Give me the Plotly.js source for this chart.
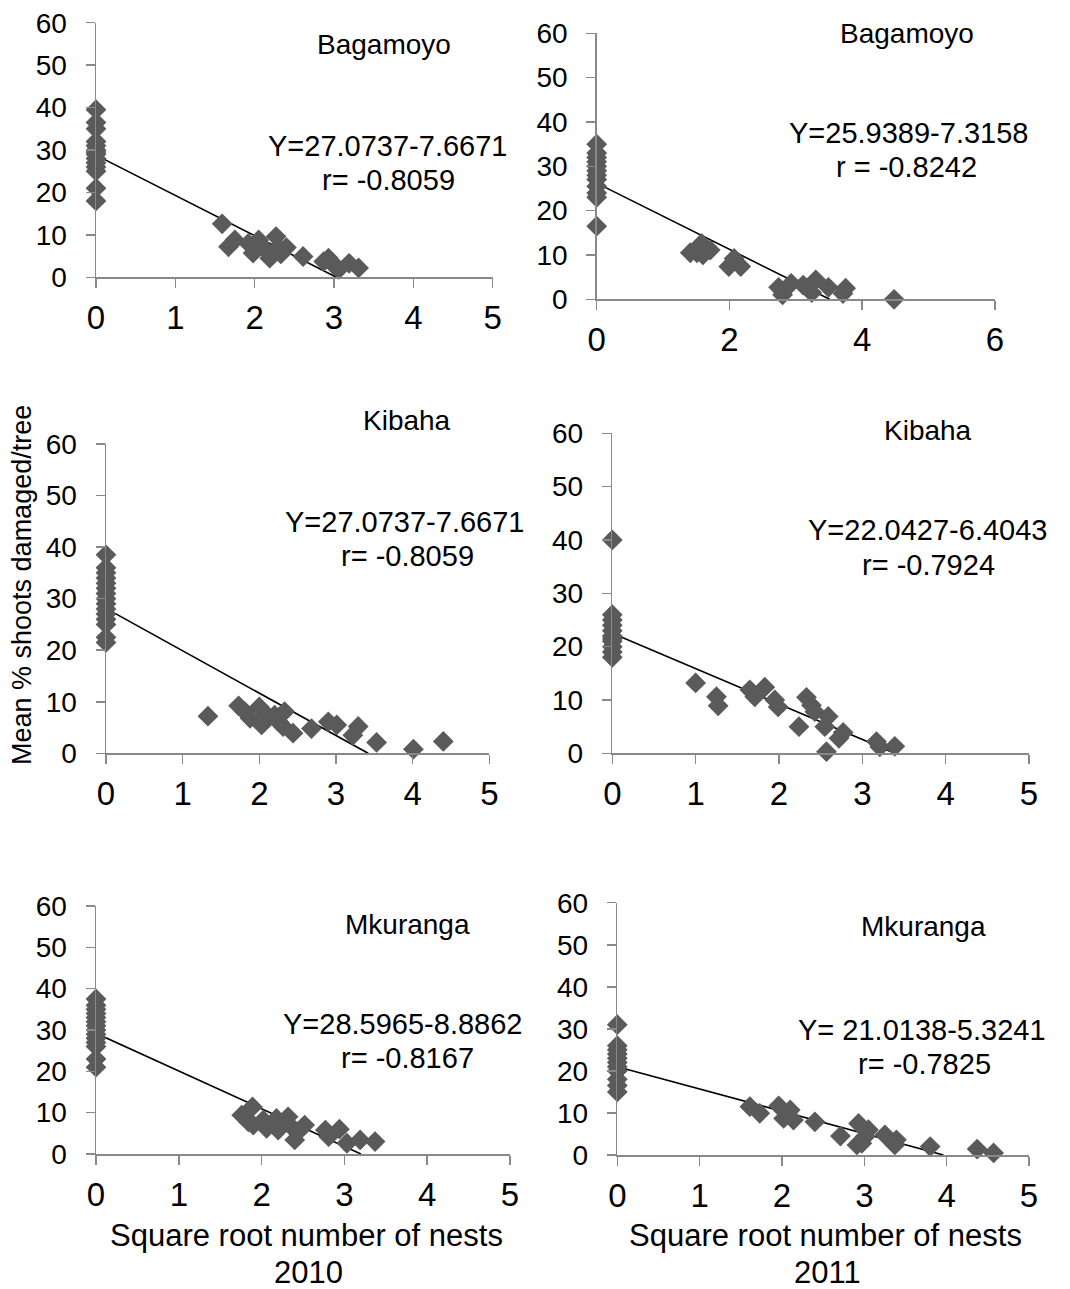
<!DOCTYPE html>
<html>
<head>
<meta charset="utf-8">
<script src="https://cdn.plot.ly/plotly-3.0.1.min.js"></script>
<style>html,body{margin:0;padding:0;background:#fff;}#chart{width:1070px;height:1289px;}</style>
</head>
<body>
<div id="chart"></div>
<script>
// ---------- DATA ----------
// Bagamoyo 2010
const bag2010X = [0,0,0,0,0,0,0,0,0,0,0,0,0,0,
  1.59,1.67,1.75,1.92,1.98,2.05,2.11,2.19,2.27,2.3,2.33,2.4,2.61,2.87,2.93,2.99,3.06,3.19,3.31];
const bag2010Y = [39.5,36.5,35,32,31,30,29.5,29,28,27,26,25,21,18,
  12.6,7.2,8.8,8,5.7,8.8,7,4.5,9.6,7,5.5,7,4.9,3.7,4.5,3,1.9,3.3,2.2];
// Bagamoyo 2011
const bag2011X = [0,0,0,0,0,0,0,0,0,0,0,0,
  1.41,1.51,1.58,1.6,1.71,1.99,2.07,2.17,2.74,2.8,2.93,3.11,3.24,3.3,3.49,3.71,3.75,4.48];
const bag2011Y = [35,33,32,31,30,29,28,27,25.5,24,23,16.5,
  10.5,10.5,12.6,10,11.1,7.4,9.2,7.4,2.7,1,3.6,3.2,1.5,4.4,2.7,1.3,2.5,0];
// Kibaha 2010
const kib2010X = [0,0,0,0,0,0,0,0,0,0,0,0,0,0,0,
  1.33,1.73,1.81,1.88,2.0,2.03,2.05,2.1,2.2,2.25,2.31,2.33,2.44,2.68,2.9,3.01,3.22,3.29,3.53,4.01,4.4];
const kib2010Y = [38.5,36,35,34,33,32,31,30,29,28,27,26,25,22.5,21.5,
  7.2,9.2,8.1,6.8,9,5.5,6.1,7.4,7.4,6.1,5.2,8.1,3.9,4.8,6.1,5.5,3.5,5.2,2.1,0.8,2.3];
// Kibaha 2011
const kib2011X = [0,0,0,0,0,0,0,0,0,0,0,
  1.0,1.25,1.27,1.65,1.71,1.83,1.95,1.99,2.24,2.33,2.39,2.43,2.55,2.59,2.57,2.72,2.77,3.17,3.21,3.39];
const kib2011Y = [40,26,25,24,23,22,21.5,21,20,19,18,
  13.2,10.6,8.9,11.9,10.6,12.4,10,8.7,5,10.5,9,7.8,5,6.9,0.3,2.8,3.9,2.2,1.2,1.3];
// Mkuranga 2010
const mku2010X = [0,0,0,0,0,0,0,0,0,0,0,0,0,0,
  1.76,1.84,1.89,1.9,2.02,2.06,2.18,2.2,2.32,2.34,2.4,2.44,2.52,2.77,2.81,2.94,3.03,3.19,3.37];
const mku2010Y = [37.5,36,35,34,33,32,31,30,29,28,27,26,23,21,
  9.4,7.8,11.4,7,8.2,6.2,8.6,5.8,9,7,3.4,5.4,7,5.8,4.2,6,2.6,3.4,3];
// Mkuranga 2011
const mku2011X = [0,0,0,0,0,0,0,0,0,0,0,
  1.61,1.73,1.96,2.02,2.1,2.14,2.4,2.71,2.93,2.91,2.97,3.01,3.05,3.25,3.37,3.39,3.8,4.37,4.57];
const mku2011Y = [31,26,25,24,23,22,21,20,18,16.5,15,
  11.5,9.9,11.7,8.7,10.7,8.3,7.9,4.5,7.5,2.4,2.8,4.4,6,4.8,2.4,3.6,2,1.4,0.5];

// Trend lines as drawn: value at x=0 and x where the line reaches 0
const trendStartY = [28.8, 26.2, 28.1, 22.5, 29.2, 21.0];
const trendEndX   = [3.03, 3.51, 3.42, 3.39, 3.20, 3.96];

const siteNames = ["Bagamoyo","Bagamoyo","Kibaha","Kibaha","Mkuranga","Mkuranga"];
const equations = ["Y=27.0737-7.6671","Y=25.9389-7.3158","Y=27.0737-7.6671","Y=22.0427-6.4043","Y=28.5965-8.8862","Y= 21.0138-5.3241"];
const rValues   = ["r= -0.8059","r = -0.8242","r= -0.8059","r= -0.7924","r= -0.8167","r= -0.7825"];
const xMax = [5, 6, 5, 5, 5, 5];
const xDtick = [1, 2, 1, 1, 1, 1];
const yTitle = "Mean % shoots damaged/tree";
const xTitle = "Square root number of nests";
const yearLabels = ["2010", "2011"];

// ---------- LAYOUT ----------
const W = 1070, H = 1289;
const px = v => v / W;
const py = v => 1 - v / H;
// plot boxes in pixels: [left, right, top, bottom]
const boxes = [
  [96, 492.7, 22.7, 277.3],
  [596.7, 995, 33.3, 299.3],
  [106, 489.3, 444, 753.3],
  [612.3, 1029, 433.3, 753.3],
  [96, 510, 906, 1154],
  [617.3, 1029, 902.7, 1155]
];
// annotation centers in pixels: [name, equation, r]
const labelPos = [
  [[384,45],[387,146],[388,180]],
  [[907,34],[908,133],[906,167]],
  [[407,421],[404,522],[407,556]],
  [[928,430],[927,530],[928,565]],
  [[407,924],[402,1024],[407,1058]],
  [[923,927],[922,1030],[924,1064]]
];

const FONT = 'Arial, "Liberation Sans", sans-serif';
const AX = '#898989';
const MK = '#5a5a5a';

const seriesX = [bag2010X, bag2011X, kib2010X, kib2011X, mku2010X, mku2011X];
const seriesY = [bag2010Y, bag2011Y, kib2010Y, kib2011Y, mku2010Y, mku2011Y];

const traces = [];
const layout = {
  width: W, height: H,
  margin: {l:0, r:0, t:0, b:0},
  paper_bgcolor: '#fff', plot_bgcolor: 'rgba(0,0,0,0)',
  showlegend: false,
  font: {family: FONT, color: '#000'},
  annotations: []
};

for (let i = 0; i < 6; i++) {
  const s = i === 0 ? '' : String(i + 1);
  const b = boxes[i];
  layout['xaxis' + s] = {
    domain: [px(b[0]), px(b[1])],
    anchor: 'y' + s,
    range: [0, xMax[i]], tick0: 0, dtick: xDtick[i],
    showline: true, linecolor: AX, linewidth: 1.5,
    ticks: 'outside', ticklen: 9, tickwidth: 1.5, tickcolor: AX,
    showgrid: false, zeroline: false,
    tickfont: {size: 33, color: '#000', family: FONT},
    ticklabelstandoff: 2,
    fixedrange: true
  };
  layout['yaxis' + s] = {
    domain: [py(b[3]), py(b[2])],
    anchor: 'x' + s,
    range: [0, 60], tick0: 0, dtick: 10,
    showline: true, linecolor: AX, linewidth: 1.5,
    ticks: 'outside', ticklen: 9, tickwidth: 1.5, tickcolor: AX,
    showgrid: false, zeroline: false,
    tickfont: {size: 28, color: '#000', family: FONT},
    ticklabelstandoff: 13,
    fixedrange: true
  };
  traces.push({
    type: 'scatter', mode: 'lines',
    x: [0, trendEndX[i]], y: [trendStartY[i], 0],
    xaxis: 'x' + s, yaxis: 'y' + s,
    line: {color: '#000', width: 1.6},
    cliponaxis: false, hoverinfo: 'skip'
  });
  traces.push({
    type: 'scatter', mode: 'markers',
    x: seriesX[i], y: seriesY[i],
    xaxis: 'x' + s, yaxis: 'y' + s,
    marker: {symbol: 'diamond', size: 16, color: MK, line: {width: 0}},
    cliponaxis: false
  });
  const lp = labelPos[i];
  const texts = [siteNames[i], equations[i], rValues[i]];
  const sizes = [28, 29, 29];
  for (let k = 0; k < 3; k++) {
    layout.annotations.push({
      xref: 'paper', yref: 'paper',
      x: px(lp[k][0]), y: py(lp[k][1]),
      xanchor: 'center', yanchor: 'middle',
      text: texts[k], showarrow: false,
      font: {size: sizes[k], color: '#000', family: FONT}
    });
  }
}

// axis titles
layout.annotations.push({
  xref: 'paper', yref: 'paper', x: px(22), y: py(585),
  xanchor: 'center', yanchor: 'middle', textangle: -90,
  text: yTitle, showarrow: false,
  font: {size: 27, color: '#000', family: FONT}
});
const xTitleCenters = [306, 825];
for (let j = 0; j < 2; j++) {
  layout.annotations.push({
    xref: 'paper', yref: 'paper', x: px(xTitleCenters[j]), y: py(1235),
    xanchor: 'center', yanchor: 'middle',
    text: xTitle, showarrow: false,
    font: {size: 31, color: '#000', family: FONT}
  });
  layout.annotations.push({
    xref: 'paper', yref: 'paper', x: px(xTitleCenters[j] + 2), y: py(1272),
    xanchor: 'center', yanchor: 'middle',
    text: yearLabels[j], showarrow: false,
    font: {size: 31, color: '#000', family: FONT}
  });
}

Plotly.newPlot('chart', traces, layout, {displayModeBar: false, staticPlot: true});
</script>
</body>
</html>
